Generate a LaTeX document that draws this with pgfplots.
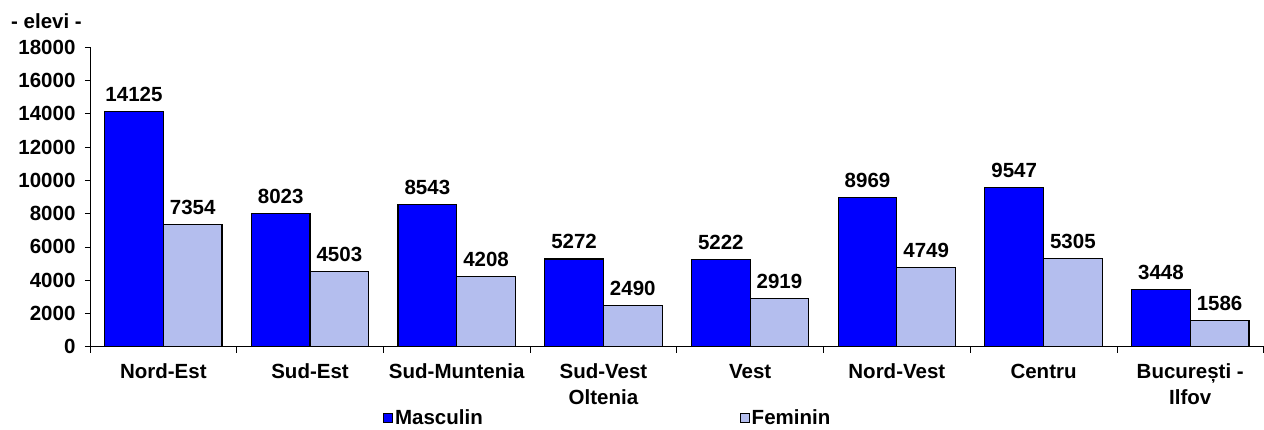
\documentclass[border=0pt]{standalone}
\usepackage{pgfplots}
\pgfplotsset{compat=1.18}
\usepackage{fontspec}
\setmainfont{Liberation Sans}
\definecolor{masc}{RGB}{0,0,255}
\definecolor{fem}{RGB}{180,190,238}
\begin{document}
\begin{tikzpicture}[x=1pt,y=1pt]
\path (0,0) rectangle (1264,430);
\node[anchor=west, inner sep=0pt, font=\fontsize{20.5}{24}\selectfont\bfseries] at (11,409) {- elevi -};
\begin{axis}[
  at={(90pt,83pt)}, anchor=south west,
  scale only axis, width=1174pt, height=300pt,
  ymin=0, ymax=18000, xmin=-0.5, xmax=7.5,
  ybar=0pt, bar width=58.7pt,
  axis x line*=bottom, axis y line*=left,
  axis line style={line width=0.8pt},
  ytick={0,2000,...,18000}, scaled y ticks=false,
  /pgf/number format/1000 sep={},
  /pgf/number format/assume math mode=true,
  tick align=outside, major tick length=5pt, minor tick length=6pt,
  tick style={black, line width=0.8pt},
  xtick={0,...,7},
  xticklabels={Nord-Est,Sud-Est,Sud-Muntenia,{Sud-Vest\\Oltenia},Vest,Nord-Vest,Centru,{București -\\Ilfov}},
  x tick label style={align=center, font=\fontsize{20.5}{25.5}\selectfont\bfseries, yshift=-8.5pt},
  y tick label style={font=\fontsize{20.5}{24}\selectfont\bfseries, xshift=-6pt},
  major x tick style={draw=none},
  minor xtick={-0.5,0.5,...,7.5},
  nodes near coords,
  every node near coord/.append style={font=\fontsize{20.5}{24}\selectfont\bfseries, black, yshift=6pt},
  legend columns=2,
  legend style={at={(0.2496,-0.2366)}, anchor=west, draw=none, inner sep=0pt,
    font=\fontsize{20.5}{24}\selectfont\bfseries,
    /tikz/every even column/.append style={column sep=255pt}},
  legend image code/.code={\draw[#1, line width=1pt] (0pt,-4.5pt) rectangle (9pt,4.5pt);},
]
\addplot[fill=masc, draw=black, line width=1.2pt] coordinates {(0,14125) (1,8023) (2,8543) (3,5272) (4,5222) (5,8969) (6,9547) (7,3448)};
\addplot[fill=fem, draw=black, line width=1.2pt] coordinates {(0,7354) (1,4503) (2,4208) (3,2490) (4,2919) (5,4749) (6,5305) (7,1586)};
\legend{Masculin,Feminin}
\end{axis}
\end{tikzpicture}
\end{document}
